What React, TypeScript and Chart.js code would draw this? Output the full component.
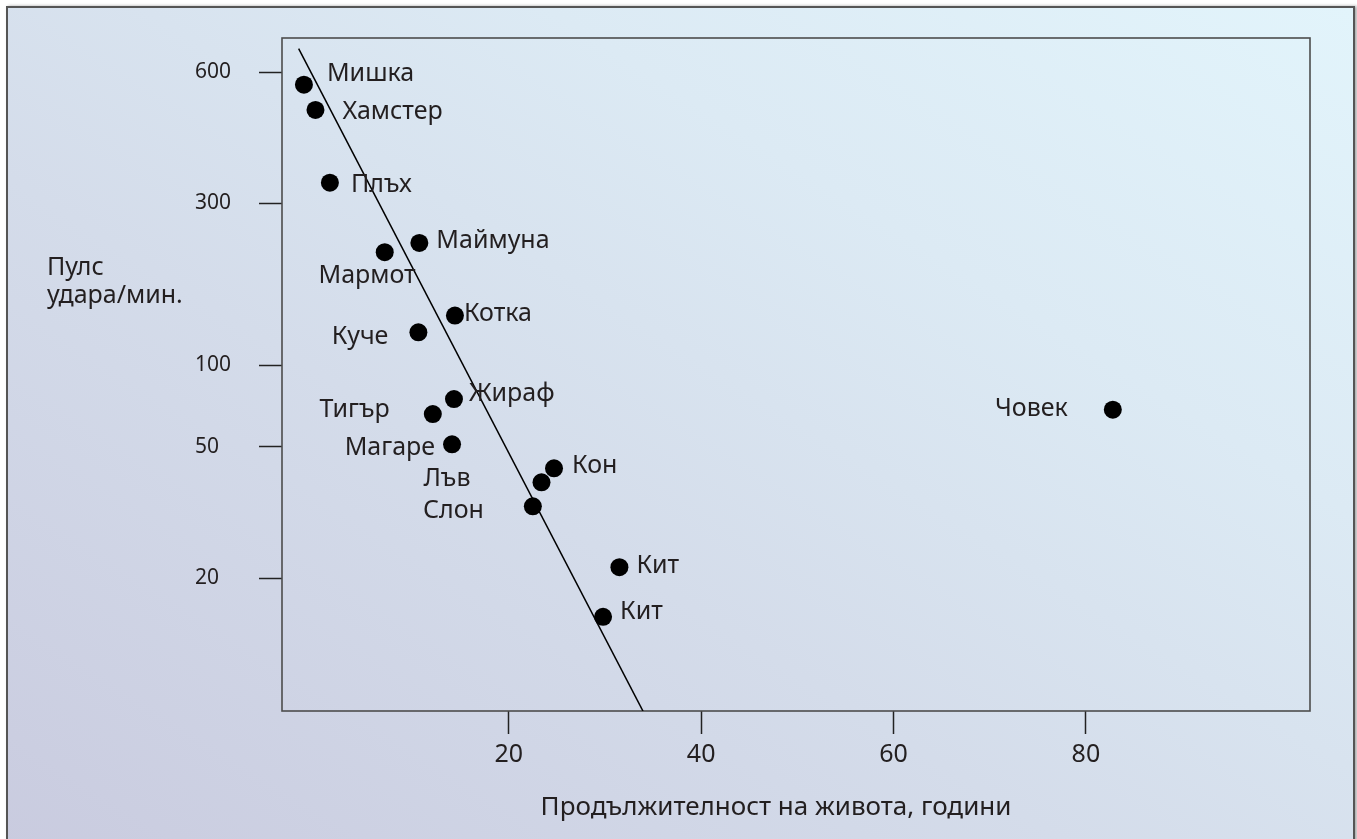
import React, { useEffect, useRef } from 'react';
import { Chart, registerables } from 'chart.js';

Chart.register(...registerables);

// ---- data ----
const ANIMALS = ['Мишка', 'Хамстер', 'Плъх', 'Маймуна', 'Мармот', 'Котка', 'Куче', 'Жираф', 'Тигър', 'Магаре', 'Кон', 'Лъв', 'Слон', 'Кит', 'Кит', 'Човек'];
const LIFESPAN = [-1.3, -0.1, 1.4, 10.7, 7.1, 14.4, 10.6, 14.3, 12.1, 14.1, 24.7, 23.4, 22.5, 31.5, 29.8, 82.8];
const PULSE = [561, 491, 334, 229, 215, 140, 125, 75, 66, 51, 43, 39, 33, 21.6, 15.3, 68.5];

// trend line end points (lifespan, pulse)
const TREND_LIFESPAN = [-1.85, 33.95];
const TREND_PULSE = [679, 7.94];

// axis ticks
const X_TICKS = [20, 40, 60, 80];
const Y_TICK_LABELS = [600, 300, 100, 50, 20];
// printed (non-uniform) y scale: where each labelled pulse sits on the axis, 0..Y_MAX
const Y_TICK_POS = [639, 508, 345.7, 264.4, 132.7];
const Y_MAX = 673;
const X_MIN = -3.58;
const X_MAX = 103.3;

const X_TITLE = 'Продължителност на живота, години';
const Y_TITLE = ['Пулс', 'удара/мин.'];

// ---- label placement (style) ----
const LABEL_PLACE: { dx: number; dy: number; align: CanvasTextAlign }[] = [
  { dx: 23, dy: -13, align: 'left' },
  { dx: 27, dy: 0, align: 'left' },
  { dx: 21, dy: 0, align: 'left' },
  { dx: 17, dy: -4, align: 'left' },
  { dx: 31, dy: 22, align: 'right' },
  { dx: 9, dy: -4, align: 'left' },
  { dx: -30, dy: 3, align: 'right' },
  { dx: 15, dy: -7, align: 'left' },
  { dx: -43, dy: -6, align: 'right' },
  { dx: -17, dy: 2, align: 'right' },
  { dx: 18, dy: -4, align: 'left' },
  { dx: -71, dy: -5, align: 'right' },
  { dx: -49, dy: 3, align: 'right' },
  { dx: 17, dy: -3, align: 'left' },
  { dx: 17, dy: -7, align: 'left' },
  { dx: -45, dy: -3, align: 'right' },
];

const FONT = '"Noto Sans", "Open Sans", "DejaVu Sans", sans-serif';
const TEXT = '#231f20';

function pulseToPos(v: number): number {
  const pairs = Y_TICK_LABELS.map((l, i) => [l, Y_TICK_POS[i]]).sort((a, b) => a[0] - b[0]);
  let i = 0;
  while (i < pairs.length - 2 && v > pairs[i + 1][0]) i++;
  const [v0, p0] = pairs[i];
  const [v1, p1] = pairs[i + 1];
  const f = Math.log(v / v0) / Math.log(v1 / v0);
  return p0 + f * (p1 - p0);
}

const boxPlugin = {
  id: 'box',
  beforeDatasetsDraw(chart: any) {
    const { ctx, chartArea: a } = chart;
    ctx.save();
    ctx.strokeStyle = '#4d4d4d';
    ctx.lineWidth = 1.6;
    ctx.strokeRect(a.left, a.top, a.right - a.left, a.bottom - a.top);
    ctx.restore();
  },
};

const textPlugin = {
  id: 'texts',
  afterDatasetsDraw(chart: any) {
    const { ctx, chartArea: a } = chart;
    const meta = chart.getDatasetMeta(0);
    ctx.save();
    ctx.fillStyle = TEXT;
    const size = 25;
    ctx.font = `${size}px ${FONT}`;
    ctx.textBaseline = 'alphabetic';
    meta.data.forEach((pt: any, i: number) => {
      const p = LABEL_PLACE[i];
      ctx.textAlign = p.align;
      ctx.fillText(ANIMALS[i], pt.x + p.dx, pt.y + p.dy + size * 0.357);
    });
    // y title
    ctx.textAlign = 'left';
    ctx.fillText(Y_TITLE[0], a.left - 235, 275);
    ctx.fillText(Y_TITLE[1], a.left - 235, 303);
    // x title
    ctx.font = `26px ${FONT}`;
    ctx.textAlign = 'center';
    ctx.fillText(X_TITLE, (a.left + a.right) / 2 - 20, 815);
    ctx.restore();
  },
};

export default function App() {
  const ref = useRef<HTMLCanvasElement>(null);
  useEffect(() => {
    document.documentElement.lang = 'bg';
    const points = LIFESPAN.map((x, i) => ({ x, y: pulseToPos(PULSE[i]) }));
    const trend = TREND_LIFESPAN.map((x, i) => ({ x, y: pulseToPos(TREND_PULSE[i]) }));
    const chart = new Chart(ref.current!, {
      type: 'scatter',
      data: {
        datasets: [
          {
            data: points,
            pointRadius: 9,
            pointHoverRadius: 9,
            pointBackgroundColor: '#000',
            pointBorderWidth: 0,
            showLine: false,
          },
          {
            data: trend,
            showLine: true,
            borderColor: '#000',
            borderWidth: 1.5,
            pointRadius: 0,
            fill: false,
          },
        ],
      },
      options: {
        animation: false,
        responsive: false,
        maintainAspectRatio: false,
        events: [],
        layout: { padding: { left: 195, top: 38, right: 47, bottom: 0 } },
        plugins: { legend: { display: false }, tooltip: { enabled: false } },
        scales: {
          x: {
            type: 'linear',
            min: X_MIN,
            max: X_MAX,
            afterBuildTicks: (s: any) => {
              s.ticks = X_TICKS.map((v) => ({ value: v }));
            },
            afterFit: (s: any) => {
              s.height = 128;
            },
            grid: { drawOnChartArea: false, drawTicks: true, tickLength: 23, tickColor: '#222', tickWidth: 1.5 },
            border: { display: false },
            ticks: { font: { family: FONT, size: 25 }, color: TEXT, padding: 6, maxRotation: 0, autoSkip: false },
          },
          y: {
            type: 'linear',
            min: 0,
            max: Y_MAX,
            afterBuildTicks: (s: any) => {
              s.ticks = Y_TICK_POS.map((v) => ({ value: v }));
            },
            afterFit: (s: any) => {
              s.width = 87;
            },
            grid: { drawOnChartArea: false, drawTicks: true, tickLength: 23, tickColor: '#222', tickWidth: 1.5 },
            border: { display: false },
            ticks: {
              font: { family: FONT, size: 21 },
              color: TEXT,
              crossAlign: 'far',
              autoSkip: false,
              callback: (v: any) => {
                const i = Y_TICK_POS.indexOf(Number(v));
                return i >= 0 ? String(Y_TICK_LABELS[i]) : '';
              },
            },
          },
        },
      },
      plugins: [boxPlugin, textPlugin],
    } as any);
    return () => chart.destroy();
  }, []);

  return (
    <div lang="bg" style={{ position: 'absolute', left: 0, top: 0, width: 1357, height: 839, background: '#fff', overflow: 'hidden' }}>
      <div
        style={{
          position: 'absolute',
          left: 6,
          top: 6,
          width: 1345,
          height: 845,
          border: '2px solid #555',
          boxShadow: '2px 0 3px rgba(0,0,0,0.35)',
          background: 'linear-gradient(to top right, #c9cbdf 0%, #d4dcea 40%, #dceaf4 70%, #e2f4fb 100%)',
        }}
      />
      <canvas lang="bg" ref={ref} width={1357} height={839} style={{ position: 'absolute', left: 0, top: 0 }} />
    </div>
  );
}
